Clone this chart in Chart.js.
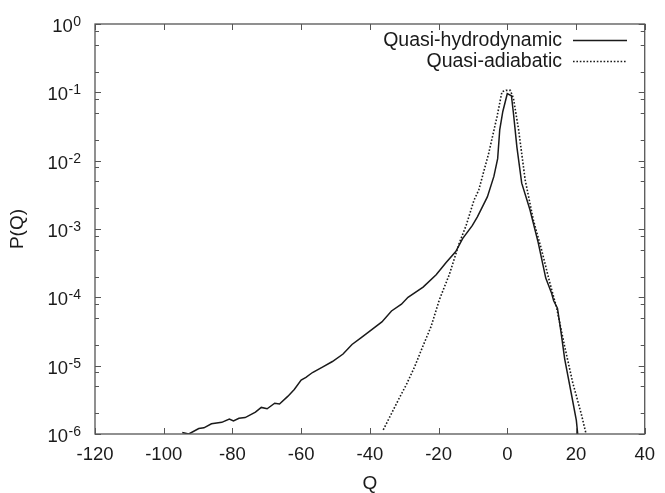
<!DOCTYPE html>
<html>
<head>
<meta charset="utf-8">
<script src="https://cdn.jsdelivr.net/npm/chart.js@4.4.0/dist/chart.umd.min.js"></script>
<style>
    html, body { margin: 0; padding: 0; background: #fff; }
    #box { width: 665px; height: 493px; }
</style>
</head>
<body>
<div id="box"><canvas id="grafico"></canvas></div>
<script>
// Quasi-hydrodynamic (solid line)
const qHidro = [-94.6, -92.7, -89.8, -88.3, -86.1, -83.1, -80.9, -79.7, -78.1, -76.3,
    -73.3, -71.6, -69.9, -67.7, -66.3, -63.9, -62.0, -60.0, -58.6, -56.7,
    -53.8, -50.9, -47.8, -45.2, -42.8, -40.4, -36.5, -33.7, -30.8, -28.9,
    -24.5, -20.7, -17.8, -15.0, -13.0, -10.2, -8.7, -5.8, -3.9, -2.8,
    -2.2, -1.3, 0.0, 1.2, 1.8, 2.8, 4.2, 6.6, 9.0, 11.2,
    12.9, 13.5, 14.6, 15.7, 16.7, 18.6, 20.1, 20.5];
const pHidro = [1.05e-6, 1.0e-6, 1.20e-6, 1.23e-6, 1.41e-6, 1.48e-6, 1.66e-6, 1.55e-6, 1.70e-6, 1.74e-6,
    2.09e-6, 2.45e-6, 2.34e-6, 2.82e-6, 2.75e-6, 3.55e-6, 4.47e-6, 6.17e-6, 6.76e-6, 7.94e-6,
    9.55e-6, 1.15e-5, 1.48e-5, 2.04e-5, 2.51e-5, 3.09e-5, 4.37e-5, 6.31e-5, 7.94e-5, 1.0e-4,
    1.41e-4, 2.14e-4, 3.24e-4, 4.68e-4, 7.24e-4, 1.12e-3, 1.51e-3, 2.95e-3, 5.89e-3, 1.07e-2,
    2.82e-2, 5.25e-2, 9.55e-2, 8.91e-2, 4.90e-2, 1.58e-2, 4.68e-3, 1.91e-3, 6.31e-4, 1.91e-4,
    1.15e-4, 8.91e-5, 6.92e-5, 2.95e-5, 1.26e-5, 3.98e-6, 1.58e-6, 1.0e-6];

// Quasi-adiabatic (dotted line)
const qAdiab = [-36.1, -34.2, -31.7, -29.4, -27.0, -24.6, -22.2, -19.8, -16.9, -14.0,
    -12.0, -9.7, -8.3, -5.4, -3.0, -1.55, -0.4, 0.9, 1.8, 3.3,
    5.2, 7.6, 10.0, 12.4, 14.3, 16.7, 19.1, 21.5, 22.9];
const pAdiab = [1.15e-6, 1.78e-6, 3.16e-6, 5.25e-6, 9.55e-6, 1.91e-5, 3.72e-5, 9.12e-5, 2.14e-4, 6.17e-4,
    1.12e-3, 2.63e-3, 3.72e-3, 1.29e-2, 4.37e-2, 1.02e-1, 1.07e-1, 1.07e-1, 8.13e-2, 2.82e-2,
    5.25e-3, 1.35e-3, 4.90e-4, 1.62e-4, 7.24e-5, 1.91e-5, 5.50e-6, 2.0e-6, 1.02e-6];

const ticksX = [-120, -100, -80, -60, -40, -20, 0, 20, 40];
const expoentesY = [0, -1, -2, -3, -4, -5, -6];
const menoresY = [2, 5, 8];

const FONTE = "'Liberation Sans', Arial, sans-serif";
const COR_EIXO = "#555";
const COR_TEXTO = "#1a1a1a";

function pontos(xs, ys) {
    return xs.map((x, i) => ({ x: x, y: ys[i] }));
}

// moldura estilo gnuplot: caixa, ticks para dentro, rótulos 10^n, títulos e legenda
const moldura = {
    id: "moldura",
    afterDraw(chart) {
        const ctx = chart.ctx;
        const a = chart.chartArea;
        const sx = chart.scales.x;
        const sy = chart.scales.y;

        ctx.save();
        ctx.strokeStyle = COR_EIXO;
        ctx.lineWidth = 1.3;
        ctx.strokeRect(a.left, a.top, a.right - a.left, a.bottom - a.top);

        ctx.lineWidth = 1;
        ctx.beginPath();
        ticksX.forEach(v => {
            const px = Math.round(sx.getPixelForValue(v)) + 0.5;
            ctx.moveTo(px, a.bottom); ctx.lineTo(px, a.bottom - 6);
            ctx.moveTo(px, a.top); ctx.lineTo(px, a.top + 6);
        });
        expoentesY.forEach(e => {
            const py = Math.round(sy.getPixelForValue(Math.pow(10, e))) + 0.5;
            ctx.moveTo(a.left, py); ctx.lineTo(a.left + 6, py);
            ctx.moveTo(a.right, py); ctx.lineTo(a.right - 6, py);
            if (e === -6) return;
            menoresY.forEach(m => {
                const pm = Math.round(sy.getPixelForValue(m * Math.pow(10, e - 1))) + 0.5;
                ctx.moveTo(a.left, pm); ctx.lineTo(a.left + 4, pm);
                ctx.moveTo(a.right, pm); ctx.lineTo(a.right - 4, pm);
            });
        });
        ctx.stroke();

        // rótulos do eixo y: 10 com expoente
        ctx.fillStyle = COR_TEXTO;
        ctx.textBaseline = "alphabetic";
        expoentesY.forEach(e => {
            const py = sy.getPixelForValue(Math.pow(10, e));
            const exp = String(e);
            ctx.font = "14px " + FONTE;
            const wExp = ctx.measureText(exp).width;
            const fim = a.left - 14;
            ctx.textAlign = "left";
            ctx.fillText(exp, fim - wExp, py + 2);
            ctx.font = "18.5px " + FONTE;
            ctx.textAlign = "right";
            ctx.fillText("10", fim - wExp - 0.5, py + 8);
        });

        // títulos dos eixos
        ctx.font = "19px " + FONTE;
        ctx.textAlign = "center";
        ctx.textBaseline = "middle";
        ctx.fillText("Q", (a.left + a.right) / 2, 484);
        ctx.save();
        ctx.translate(18, (a.top + a.bottom) / 2);
        ctx.rotate(-Math.PI / 2);
        ctx.fillText("P(Q)", 0, 0);
        ctx.restore();

        // legenda
        chart.data.datasets.forEach((ds, i) => {
            const y = 40 + i * 21;
            ctx.font = "19.5px " + FONTE;
            ctx.textAlign = "right";
            ctx.textBaseline = "middle";
            ctx.fillStyle = COR_TEXTO;
            ctx.fillText(ds.label, 562, y + 1);
            ctx.strokeStyle = ds.borderColor;
            ctx.lineWidth = ds.borderWidth;
            ctx.setLineDash(ds.borderDash || []);
            ctx.beginPath();
            ctx.moveTo(573, y + 0.5);
            ctx.lineTo(627, y + 0.5);
            ctx.stroke();
            ctx.setLineDash([]);
        });
        ctx.restore();
    }
};

new Chart(document.getElementById("grafico"), {
    type: "line",
    data: {
        datasets: [{
            label: "Quasi-hydrodynamic",
            data: pontos(qHidro, pHidro),
            borderColor: "#1a1a1a",
            borderWidth: 1.5,
            pointRadius: 0,
            tension: 0
        }, {
            label: "Quasi-adiabatic",
            data: pontos(qAdiab, pAdiab),
            borderColor: "#1a1a1a",
            borderWidth: 1.6,
            borderDash: [1.6, 1.8],
            pointRadius: 0,
            tension: 0
        }]
    },
    options: {
        responsive: true,
        maintainAspectRatio: false,
        animation: false,
        layout: { padding: { left: 0, right: 14, top: 24, bottom: 0 } },
        plugins: {
            legend: { display: false },
            tooltip: { enabled: false }
        },
        scales: {
            x: {
                type: "linear",
                min: -120,
                max: 40,
                afterBuildTicks: s => { s.ticks = ticksX.map(v => ({ value: v })); },
                afterFit: s => { s.height = 59; },
                grid: { display: false, drawTicks: false },
                border: { display: false },
                ticks: {
                    color: COR_TEXTO,
                    font: { family: FONTE, size: 18.5 },
                    padding: 10,
                    maxRotation: 0
                }
            },
            y: {
                type: "logarithmic",
                min: 1e-6,
                max: 1,
                afterBuildTicks: s => { s.ticks = expoentesY.map(e => ({ value: Math.pow(10, e) })); },
                afterFit: s => { s.width = 95; },
                grid: { display: false, drawTicks: false },
                border: { display: false },
                ticks: { display: false }
            }
        }
    },
    plugins: [moldura]
});
</script>
</body>
</html>
